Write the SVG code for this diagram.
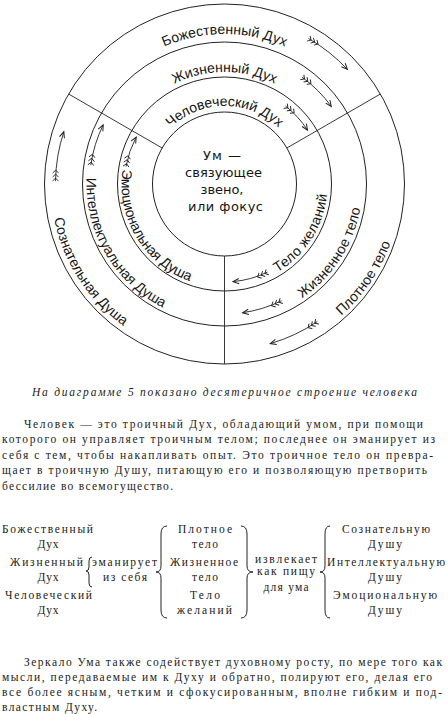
<svg xmlns="http://www.w3.org/2000/svg" width="448" height="714" viewBox="0 0 448 714">
<style>
.ring{fill:none;stroke:#222;stroke-width:1}
.div{stroke:#222;stroke-width:0.9}
.arc{font-family:"Liberation Sans","DejaVu Sans",sans-serif;font-size:14px;fill:#151515}
.um{font-family:"DejaVu Sans","Liberation Sans",sans-serif;font-size:13px;fill:#151515;text-anchor:middle}
.arrow{fill:none;stroke:#222;stroke-width:0.9;marker-start:url(#fletch);marker-end:url(#head)}
.body{font-family:"Liberation Serif","DejaVu Serif",serif;font-size:11.5px;fill:#222}
.cap{font-style:italic}
.c{text-anchor:middle}
.brace{fill:none;stroke:#222;stroke-width:1}
</style>
<defs>
<marker id="head" markerUnits="userSpaceOnUse" markerWidth="10" markerHeight="10" refX="0" refY="0" viewBox="-7 -5 8 10" orient="auto">
<path d="M-6,-2.6 L0,0 L-6,2.6" fill="none" stroke="#222" stroke-width="1"/>
</marker>
<marker id="fletch" markerUnits="userSpaceOnUse" markerWidth="16" markerHeight="10" refX="0" refY="0" viewBox="-2 -5 16 10" orient="auto">
<path d="M0,-3 L3,0 L0,3 M4,-3 L7,0 L4,3 M8,-3 L11,0 L8,3" fill="none" stroke="#222" stroke-width="0.9"/>
</marker>
<path id="p-bog" d="M94.6,109 A150,150 0 0 1 354.4,109"/>
<path id="p-zhd" d="M127.5,128 A112,112 0 0 1 321.5,128"/>
<path id="p-chd" d="M156.95,145 A78,78 0 0 1 292.05,145"/>
<path id="p-soz" d="M69.5,105 A174,174 0 0 0 233.6,357.8"/>
<path id="p-int" d="M104.4,116.05 A138,138 0 0 0 225.7,322"/>
<path id="p-emo" d="M134.4,134.1 A103,103 0 0 0 226.3,287"/>
<path id="p-tzh" d="M220,286.9 A103,103 0 0 0 315.9,136.4"/>
<path id="p-zht" d="M217.3,321.8 A138,138 0 0 0 347.5,121.35"/>
<path id="p-plt" d="M212.2,359.6 A176,176 0 0 0 382.7,106.8"/>
</defs>
<rect width="448" height="714" fill="#fff"/>

<g id="rings">
<circle class="ring" cx="224.5" cy="184" r="180"/>
<circle class="ring" cx="224.5" cy="184" r="142"/>
<circle class="ring" cx="224.5" cy="184" r="107"/>
<circle class="ring" cx="224.5" cy="184" r="72"/>
</g>

<g id="connectors">
<line class="div" x1="224.5" y1="256" x2="224.5" y2="364"/>
<line class="div" x1="162.15" y1="148" x2="68.6" y2="94"/>
<line class="div" x1="286.85" y1="148" x2="380.4" y2="94"/>
<path class="arrow" d="M308.5,38.5 A168,168 0 0 1 347.4,69.4"/>
<path class="arrow" d="M302.1,77.2 A132,132 0 0 1 331.3,106.4"/>
<path class="arrow" d="M285.5,106 A99,99 0 0 1 307.5,130.1"/>
<path class="arrow" d="M55.5,181.1 A169,169 0 0 1 63.8,131.8"/>
<path class="arrow" d="M90.8,165.2 A135,135 0 0 1 103.2,124.8"/>
<path class="arrow" d="M126,166.6 A100,100 0 0 1 136.2,137"/>
<path class="arrow" d="M267.5,272.1 A98,98 0 0 1 233,281.6"/>
<path class="arrow" d="M281.5,300.8 A130,130 0 0 1 242.6,312.7"/>
<path class="arrow" d="M317.3,321.6 A166,166 0 0 1 270.3,343.6"/>
</g>

<g id="bozh-dukh"><text class="arc"><textPath href="#p-bog" startOffset="50%" text-anchor="middle" textLength="124" lengthAdjust="spacing">Божественный Дух</textPath></text></g>
<g id="zhiz-dukh"><text class="arc"><textPath href="#p-zhd" startOffset="50%" text-anchor="middle" textLength="104" lengthAdjust="spacing">Жизненный Дух</textPath></text></g>
<g id="chel-dukh"><text class="arc"><textPath href="#p-chd" startOffset="50%" text-anchor="middle" textLength="119" lengthAdjust="spacing">Человеческий Дух</textPath></text></g>
<g id="soz-dusha"><text class="arc"><textPath href="#p-soz" startOffset="50%" text-anchor="middle" textLength="131" lengthAdjust="spacing">Сознательная Душа</textPath></text></g>
<g id="int-dusha"><text class="arc"><textPath href="#p-int" startOffset="50%" text-anchor="middle" textLength="159" lengthAdjust="spacing">Интеллектуальная Душа</textPath></text></g>
<g id="emo-dusha"><text class="arc"><textPath href="#p-emo" startOffset="50%" text-anchor="middle" textLength="141" lengthAdjust="spacing">Эмоциональная Душа</textPath></text></g>
<g id="telo-zhel"><text class="arc"><textPath href="#p-tzh" startOffset="50%" text-anchor="middle" textLength="96" lengthAdjust="spacing">Тело желаний</textPath></text></g>
<g id="zhiz-telo"><text class="arc"><textPath href="#p-zht" startOffset="50%" text-anchor="middle" textLength="110" lengthAdjust="spacing">Жизненное тело</textPath></text></g>
<g id="plot-telo"><text class="arc"><textPath href="#p-plt" startOffset="50%" text-anchor="middle" textLength="89" lengthAdjust="spacing">Плотное тело</textPath></text></g>

<g id="um">
<text class="um" x="222" y="160" textLength="38" lengthAdjust="spacing">Ум —</text>
<text class="um" x="223.5" y="177" textLength="77" lengthAdjust="spacing">связующее</text>
<text class="um" x="222" y="194" textLength="43" lengthAdjust="spacing">звено,</text>
<text class="um" x="225.5" y="211" textLength="75" lengthAdjust="spacing">или фокус</text>
</g>

<g id="caption">
<text class="body cap" x="32" y="396" textLength="385" lengthAdjust="spacing">На диаграмме 5 показано десятеричное строение человека</text>
</g>

<g id="para1">
<text class="body" x="24" y="427.5" textLength="399" lengthAdjust="spacing">Человек — это троичный Дух, обладающий умом, при помощи</text>
<text class="body" x="2" y="443" textLength="433" lengthAdjust="spacing">которого он управляет троичным телом; последнее он эманирует из</text>
<text class="body" x="2" y="458.5" textLength="431" lengthAdjust="spacing">себя с тем, чтобы накапливать опыт. Это троичное тело он превра-</text>
<text class="body" x="2" y="474" textLength="425" lengthAdjust="spacing">щает в троичную Душу, питающую его и позволяющую претворить</text>
<text class="body" x="2" y="489.5" textLength="171" lengthAdjust="spacing">бессилие во всемогущество.</text>
</g>

<g id="spirits">
<text class="body" x="2" y="533" textLength="91" lengthAdjust="spacing">Божественный</text>
<text class="body c" x="48" y="548" textLength="21" lengthAdjust="spacing">Дух</text>
<text class="body" x="10" y="566" textLength="73" lengthAdjust="spacing">Жизненный</text>
<text class="body c" x="48" y="581" textLength="21" lengthAdjust="spacing">Дух</text>
<text class="body" x="5" y="599" textLength="87" lengthAdjust="spacing">Человеческий</text>
<text class="body c" x="48" y="614" textLength="21" lengthAdjust="spacing">Дух</text>
</g>
<g id="emanates">
<path class="brace" d="M92,557 Q89,557 89,561 L89,567 Q89,571 86,571 Q89,571 89,575 L89,583 Q89,587 92,587"/>
<text class="body" x="92" y="566" textLength="65" lengthAdjust="spacing">эманирует</text>
<text class="body c" x="125" y="581" textLength="44" lengthAdjust="spacing">из себя</text>
</g>
<g id="bodies">
<path class="brace" d="M167,526 Q161,526 161,534 L161,566 Q161,572 156,572 Q161,572 161,578 L161,610 Q161,618 167,618"/>
<text class="body c" x="205" y="533" textLength="54" lengthAdjust="spacing">Плотное</text>
<text class="body c" x="205" y="548" textLength="26" lengthAdjust="spacing">тело</text>
<text class="body c" x="204" y="566" textLength="68" lengthAdjust="spacing">Жизненное</text>
<text class="body c" x="205" y="581" textLength="26" lengthAdjust="spacing">тело</text>
<text class="body c" x="205" y="599" textLength="30" lengthAdjust="spacing">Тело</text>
<text class="body c" x="204.5" y="614" textLength="55" lengthAdjust="spacing">желаний</text>
<path class="brace" d="M241,526 Q247,526 247,534 L247,566 Q247,572 253,572 Q247,572 247,578 L247,610 Q247,618 241,618"/>
</g>
<g id="extracts">
<text class="body c" x="286" y="563" textLength="62" lengthAdjust="spacing">извлекает</text>
<text class="body c" x="286" y="575" textLength="58" lengthAdjust="spacing">как пищу</text>
<text class="body c" x="286" y="591" textLength="45" lengthAdjust="spacing">для ума</text>
</g>
<g id="souls">
<path class="brace" d="M330,526 Q325,526 325,534 L325,566 Q325,572 320,572 Q325,572 325,578 L325,610 Q325,618 330,618"/>
<text class="body c" x="386" y="533" textLength="88" lengthAdjust="spacing">Сознательную</text>
<text class="body c" x="385" y="548" textLength="34" lengthAdjust="spacing">Душу</text>
<text class="body c" x="386" y="566" textLength="118" lengthAdjust="spacing">Интеллектуальную</text>
<text class="body c" x="385" y="581" textLength="34" lengthAdjust="spacing">Душу</text>
<text class="body c" x="385" y="599" textLength="104" lengthAdjust="spacing">Эмоциональную</text>
<text class="body c" x="385" y="614" textLength="34" lengthAdjust="spacing">Душу</text>
</g>

<g id="para2">
<text class="body" x="24" y="666" textLength="418" lengthAdjust="spacing">Зеркало Ума также содействует духовному росту, по мере того как</text>
<text class="body" x="2" y="681" textLength="430" lengthAdjust="spacing">мысли, передаваемые им к Духу и обратно, полируют его, делая его</text>
<text class="body" x="2" y="696" textLength="440" lengthAdjust="spacing">все более ясным,  четким и сфокусированным, вполне гибким и под-</text>
<text class="body" x="2" y="710.5" textLength="95" lengthAdjust="spacing">властным Духу.</text>
</g>
</svg>
